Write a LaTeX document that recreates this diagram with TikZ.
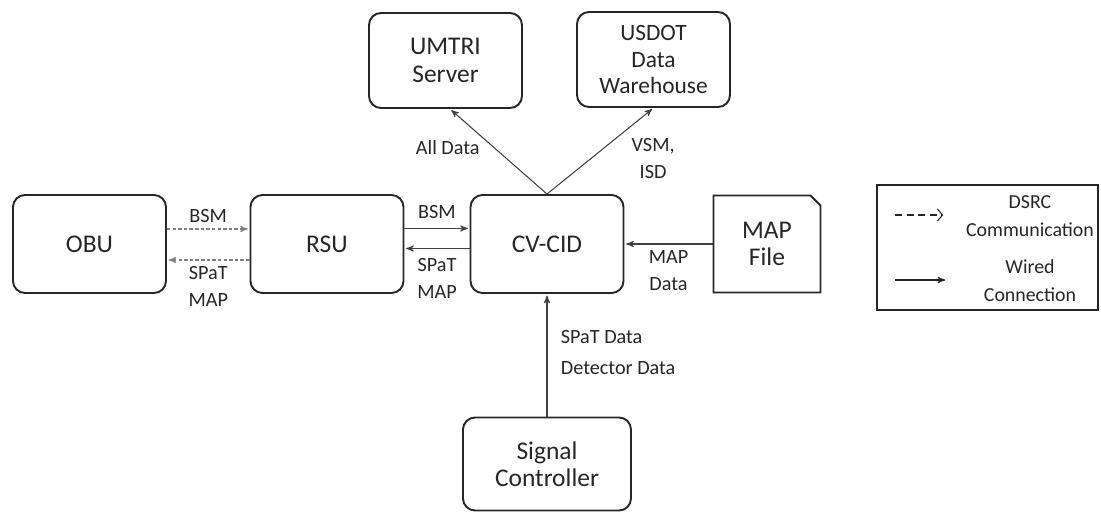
\documentclass[tikz,border=0pt]{standalone}
\usepackage{fontspec}
\setmainfont{Carlito}
\usetikzlibrary{shapes,arrows,arrows.meta,calc}

\begin{document}
\begin{tikzpicture}[->,>=stealth',shorten >=1pt,auto,node distance=4.4cm,
                    semithick,
                    unit/.style={rectangle,rounded corners=0.24cm,draw=black!85,
                                 line width=1.1pt,minimum width=3.06cm,minimum height=1.96cm,
                                 inner sep=0pt,align=center,text=black!85,
                                 font=\fontsize{14.5}{15.5}\selectfont},
                    lbl/.style={align=center,text=black!85,font=\fontsize{11.5}{15.3}\selectfont},
                    dsrc/.style={draw=black!50,dash pattern=on 2pt off 1.2pt},
                    wired/.style={draw=black!75}]

  \useasboundingbox (0,0) rectangle (22.02,-10.24);

  % main row
  \node[unit]   (obu)   at (1.79,-4.88)         {OBU};
  \node[unit]   (rsu)   [right of=obu, xshift=0.35cm] {RSU};
  \node[unit]   (cvcid) [right of=rsu]          {CV-CID};
  \node[chamfered rectangle,chamfered rectangle corners=north east,
        chamfered rectangle xsep=0.1cm,chamfered rectangle ysep=0.1cm,
        draw=black!85,line width=1.1pt,minimum width=2.14cm,minimum height=1.94cm,
        inner sep=0pt,align=center,text=black!85,font=\fontsize{14.5}{15.5}\selectfont]
                (map)   [right of=cvcid]        {MAP\\File};
  \node[unit,minimum height=1.86cm,minimum width=3.36cm]
                (sig)   [below of=cvcid]        {Signal\\Controller};

  % servers on top
  \node[unit,minimum height=1.9cm] (umtri) at (8.91,-1.21) {UMTRI\\Server};
  \node[unit,minimum height=1.9cm,font=\fontsize{13.3}{15.3}\selectfont]
                (usdot) at (13.07,-1.19) {USDOT\\Data\\Warehouse};

  \path ([yshift=0.3cm]obu.east)   edge[dsrc] node[lbl,above] {BSM} ([yshift=0.3cm]rsu.west)
        ([yshift=-0.32cm]rsu.west) edge[dsrc] node[lbl,below] {SPaT\\MAP} ([yshift=-0.32cm]obu.east)
        ([yshift=0.31cm]rsu.east)  edge[wired] node[lbl,above=2pt] {BSM} ([yshift=0.31cm]cvcid.west)
        ([yshift=-0.09cm]cvcid.west) edge[wired] node[lbl,below=2pt] {SPaT\\MAP} ([yshift=-0.09cm]rsu.east)
        (map.west)    edge[wired] node[lbl,below] {MAP\\Data} (map.west -| cvcid.east)
        (cvcid.north) edge[wired] node[lbl,left=0.25cm,yshift=0.08cm] {All Data} ([xshift=0.09cm]umtri.south)
        (cvcid.north) edge[wired] node[lbl,right=0.5cm,yshift=-0.15cm] {VSM,\\ISD} (usdot.south)
        (sig.north)   edge[wired] node[lbl,right=0.15cm,yshift=0.05cm,align=left,
                                       font=\fontsize{11.5}{17.6}\selectfont]
                                       {SPaT Data\\Detector Data} (cvcid.south);

  % legend
  \draw[-,draw=black!85,line width=1pt] (17.54,-3.70) rectangle (21.96,-6.20);
  \coordinate (dA) at (17.9,-4.30);
  \coordinate (dB) at (18.9,-4.30);
  \coordinate (wA) at (17.9,-5.60);
  \coordinate (wB) at (18.94,-5.60);
  \draw[-{Straight Barb[length=3pt,width=7pt]},dash pattern=on 4pt off 2.6pt,black!85] (dA) -- (dB);
  \draw[black!85] (wA) -- (wB);
  \node[lbl,font=\fontsize{11.3}{15.9}\selectfont] (dsrctxt)  at (20.6,-4.32) {DSRC\\Communication};
  \node[lbl,font=\fontsize{11.3}{15.9}\selectfont] (wiredtxt) at (20.6,-5.61) {Wired\\Connection};
\end{tikzpicture}
\end{document}
